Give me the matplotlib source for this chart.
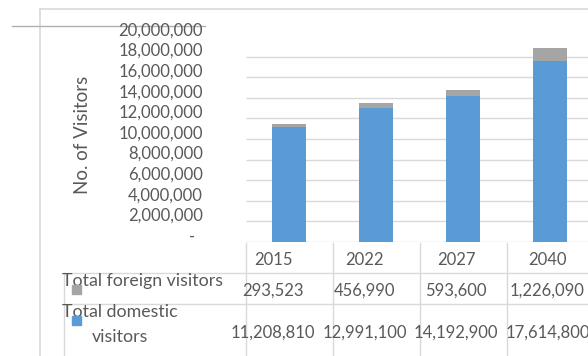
import matplotlib.pyplot as plt
import matplotlib.transforms as mtransforms
from matplotlib.patches import Rectangle

years = ['2015', '2022', '2027', '2040']
foreign = [293523, 456990, 593600, 1226090]
domestic = [11208810, 12991100, 14192900, 17614800]
yticks = list(range(0, 20000001, 2000000))

blue = '#5b9bd5'
grey = '#a5a5a5'
text_c = '#595959'
line_c = '#d9d9d9'

plt.rcParams['font.family'] = ['Lato', 'DejaVu Sans']

W, H = 588, 356
fig = plt.figure(figsize=(W / 100, H / 100), dpi=100)

# overlay in pixel coords for the frame and the data table
ov = fig.add_axes([0, 0, 1, 1])
ov.set_xlim(0, W)
ov.set_ylim(H, 0)
ov.axis('off')

ax = fig.add_axes([245.5 / W, 1 - 242 / H, 348 / W, (242 - 36) / H])
x = list(range(len(years)))
ax.bar(x, domestic, width=0.39, color=blue, zorder=3)
ax.bar(x, foreign, width=0.39, bottom=domestic, color=grey, zorder=3)
ax.hlines(yticks[:-1], -0.5, 3.5, color=line_c, lw=1, zorder=1)
ax.set_xlim(-0.5, 3.5)
ax.set_ylim(0, 20000000)
ax.set_xticks([])
ax.set_yticks(yticks)
ax.set_yticklabels(['-  ' if v == 0 else f'{v:,}' for v in yticks],
                   fontsize=12, color=text_c)
ax.tick_params(axis='y', length=0, pad=30.5)
offset = mtransforms.ScaledTranslation(0, 7 / 100, fig.dpi_scale_trans)
for lab in ax.get_yticklabels():
    lab.set_transform(lab.get_transform() + offset)
for s in ax.spines.values():
    s.set_visible(False)
ax.patch.set_alpha(0)

ov.text(83, 135, 'No. of Visitors', rotation=90, ha='center', va='center',
        fontsize=13.5, color=text_c)

# frame
ov.plot([40, W], [9, 9], color=line_c, lw=1.2)
ov.plot([40, 40], [9, H], color=line_c, lw=1.2)
ov.plot([12, 205], [26, 26], color='#b0b0b0', lw=1)

# data table
blend = mtransforms.blended_transform_factory(ax.transData, ov.transData)
for b in [-0.5, 0.5, 1.5, 2.5, 3.5]:
    ov.plot([b, b], [243, H], color=line_c, lw=1, transform=blend, clip_on=False)
ov.plot([64, 64], [273, H], color=line_c, lw=1)
ov.plot([64, W], [273, 273], color=line_c, lw=1)
ov.plot([64, W], [304, 304], color=line_c, lw=1)

for i in x:
    tx = -0.18 + 1.05 * i
    ov.text(tx, 265, years[i], ha='center', va='baseline', fontsize=12,
            color=text_c, transform=blend)
    ov.text(tx, 296, f'{foreign[i]:,}', ha='center', va='baseline', fontsize=12,
            color=text_c, transform=blend)
    ov.text(tx, 338, f'{domestic[i]:,}', ha='center', va='baseline', fontsize=12,
            color=text_c, transform=blend)

ov.text(62, 286, 'Total foreign visitors', ha='left', va='baseline',
        fontsize=12.8, color=text_c)
ov.text(62, 317, 'Total domestic', ha='left', va='baseline',
        fontsize=12.8, color=text_c)
ov.text(120, 342, 'visitors', ha='center', va='baseline',
        fontsize=12.8, color=text_c)
ov.add_patch(Rectangle((72, 285), 9, 9, color=grey, zorder=5))
ov.add_patch(Rectangle((72, 316), 9, 9, color=blue, zorder=5))

fig.savefig('out.png', dpi=100)
